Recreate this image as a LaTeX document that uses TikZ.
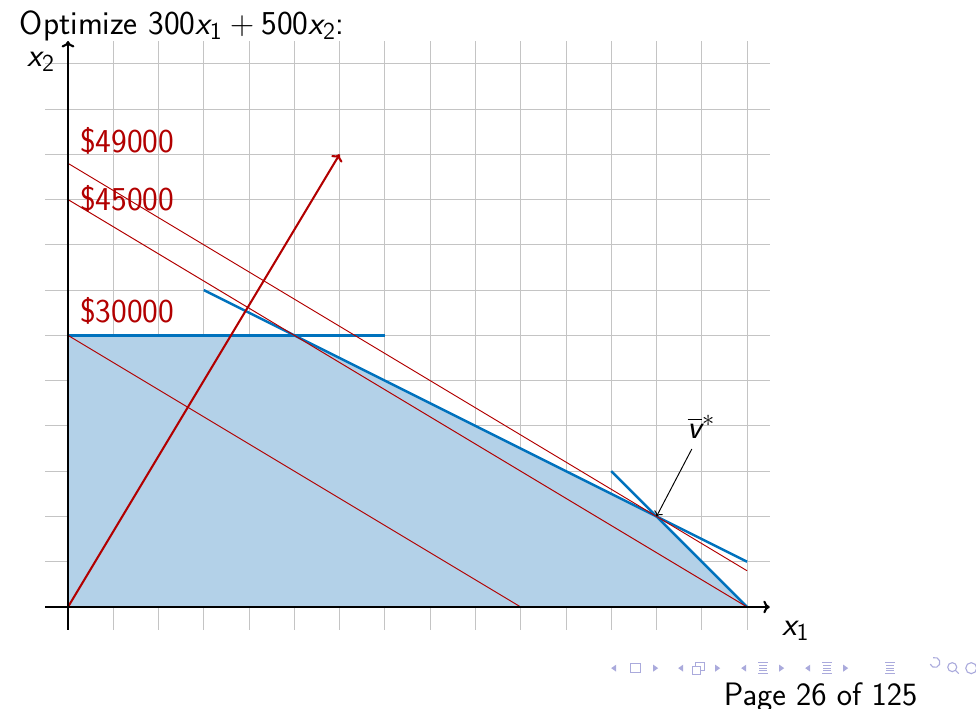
\documentclass[tikz,border=0pt]{standalone}
\usepackage{fix-cm}
\usepackage{amsmath}
\DeclareFontShape{OT1}{cmss}{m}{n}{<-16> cmss8 <16-> cmss10}{}
\DeclareFontShape{OT1}{cmss}{m}{it}{<-16> cmssi8 <16-> cmssi10}{}
\DeclareFontShape{OT1}{cmss}{m}{sl}{<-16> cmssi8 <16-> cmssi10}{}
\DeclareMathSizes{21}{21}{15.3}{11.5}
\usetikzlibrary{arrows.meta}
\definecolor{lpblue}{RGB}{0,114,189}
\definecolor{lpfill}{RGB}{179,209,232}
\definecolor{lpred}{RGB}{178,0,0}
\definecolor{lpgrid}{RGB}{196,196,196}
\definecolor{navc}{RGB}{170,170,220}
\newcommand{\vx}[1]{\textit{x}_{\textsf{#1}}}
\begin{document}
\begin{tikzpicture}[
  font=\sffamily\fontsize{21}{25}\selectfont,
  gridline/.style={draw=lpgrid, line width=0.6pt},
  axis/.style={draw=black, line width=1.3pt, -{To[length=4pt,width=8pt]}},
  bluel/.style={draw=lpblue, line width=1.5pt},
  redl/.style={draw=lpred, line width=0.6pt},
  redarrow/.style={draw=lpred, line width=1.3pt, -{To[length=4pt,width=8pt]}},
  lbl/.style={text=lpred, anchor=base west, inner sep=0pt},
  navs/.style={navc, line width=0.7pt},
]
\useasboundingbox (-1.502,-2.253) rectangle (20.057,13.408);
% grid
\draw[gridline] (-0.5,-0.5) grid (15.5,12.5);
% feasible region
\coordinate (o) at (0,0);
\coordinate (a) at (0,6);
\coordinate (b) at (5,6);
\coordinate (opt) at (13,2);
\coordinate (c) at (15,0);
\fill[lpfill] (o) -- (a) -- (b) -- (opt) -- (c) -- cycle;
% constraint lines
\coordinate (h1) at (7,6);
\coordinate (d1) at (3,7);
\coordinate (d2) at (15,1);
\coordinate (e1) at (12,3);
\draw[bluel] (a) -- (h1);
\draw[bluel] (d1) -- (d2);
\draw[bluel] (e1) -- (c);
% objective iso-lines
\coordinate (i30a) at (0,6);
\coordinate (i30b) at (10,0);
\coordinate (i45a) at (0,9);
\coordinate (i45b) at (15,0);
\coordinate (i49a) at (0,9.8);
\coordinate (i49b) at (15,0.8);
\draw[redl] (i30a) -- (i30b);
\draw[redl] (i45a) -- (i45b);
\draw[redl] (i49a) -- (i49b);
% objective direction
\coordinate (dir) at (6,10);
\draw[redarrow] (o) -- (dir);
% axes
\coordinate (xs) at (-0.5,0);
\coordinate (xe) at (15.5,0);
\coordinate (ys) at (0,-0.5);
\coordinate (ye) at (0,12.5);
\draw[axis] (xs) -- (xe);
\draw[axis] (ys) -- (ye);
\node[anchor=base west, inner sep=0pt] (x1) at (15.77,-0.62) {$\vx{1}$};
\node[anchor=base west, inner sep=0pt] (x2) at (-0.9,11.93) {$\vx{2}$};
% labels
\node[lbl] (l49) at (0.26,10.05) {\$49000};
\node[lbl] (l45) at (0.26,8.75) {\$45000};
\node[lbl] (l30) at (0.26,6.28) {\$30000};
% optimum
\node[anchor=base west, inner sep=0pt] (vstar) at (13.68,3.72) {$\overline{\textit{v}}^{*}$};
\coordinate (vs) at (13.78,3.49);
\draw[line width=0.6pt, -{To[length=3pt,width=6pt]}] (vs) -- (opt);
% title
\node[anchor=base west, inner sep=0pt] (title) at (-1.07,12.65) {Optimize 300$\vx{1}+{}$500$\vx{2}$:};
% footer
\node[anchor=base west, inner sep=0pt, font=\sffamily\fontsize{20.4}{24}\selectfont] (page) at (14.48,-2.165) {Page 26 of 125};
% navigation symbols (pixel coordinates)
\begin{scope}[shift={(-1.502,13.408)}, x=0.02209cm, y=-0.02209cm]
  \fill[navc] (616,664.5) -- (611,668) -- (616,671.5) -- cycle;
  \draw[navs] (630,663.5) rectangle (640,672.5);
  \fill[navc] (653,664.5) -- (658,668) -- (653,671.5) -- cycle;
  \fill[navc] (683,664.5) -- (678,668) -- (683,671.5) -- cycle;
  \draw[navs] (692,666) rectangle (700,674);
  \draw[navs] (695,666) -- (695,662) -- (704,662) -- (704,670) -- (700,670);
  \fill[navc] (715,664.5) -- (720,668) -- (715,671.5) -- cycle;
  \fill[navc] (746,664.5) -- (741,668) -- (746,671.5) -- cycle;
  \draw[navs] (758,662.5) -- (768,662.5) (759,665.5) -- (767,665.5) (759,668) -- (767,668) (759,670.5) -- (767,670.5) (758,673.5) -- (768,673.5);
  \fill[navc] (779,664.5) -- (784,668) -- (779,671.5) -- cycle;
  \fill[navc] (810,664.5) -- (805,668) -- (810,671.5) -- cycle;
  \draw[navs] (822,662.5) -- (832,662.5) (823,665.5) -- (831,665.5) (823,668) -- (831,668) (823,670.5) -- (831,670.5) (822,673.5) -- (832,673.5);
  \fill[navc] (843,664.5) -- (848,668) -- (843,671.5) -- cycle;
  \draw[navs] (885,662.5) -- (895,662.5) (886,665.5) -- (894,665.5) (886,668) -- (894,668) (886,670.5) -- (894,670.5) (885,673.5) -- (895,673.5);
  \draw[navs] (930,664) arc[start angle=160, end angle=-110, radius=5];
  \draw[navs] (952,667) circle[radius=4.5] (955.5,670.5) -- (958.5,673.5);
  \draw[navs] (971,668) circle[radius=5.5];
\end{scope}
\end{tikzpicture}
\end{document}
